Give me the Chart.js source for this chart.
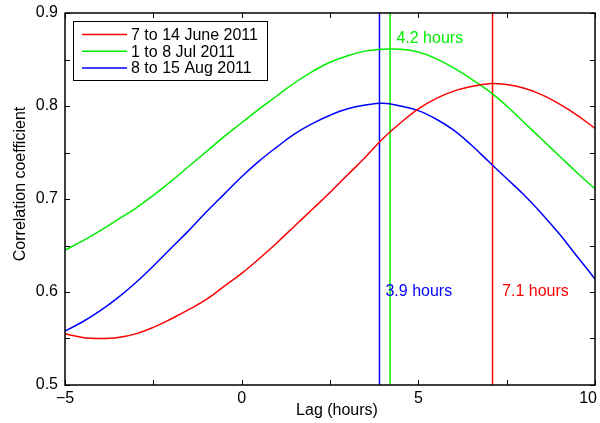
<!DOCTYPE html>
<html>
<head>
<meta charset="utf-8">
<script src="https://cdn.jsdelivr.net/npm/chart.js@4"></script>
<style>
  html, body { margin: 0; padding: 0; background: #fff; }
  #wrap { width: 600px; height: 423px; }
</style>
</head>
<body>
<div id="wrap"><canvas id="corrChart" width="600" height="423"></canvas></div>
<script>
// lag axis (hours)
const lags = [
  -5, -4.5, -4, -3.5, -3, -2.5, -2, -1.5, -1, -0.5,
  0, 0.5, 1, 1.5, 2, 2.5, 3, 3.5, 4, 4.5,
  5, 5.5, 6, 6.5, 7, 7.5, 8, 8.5, 9, 9.5, 10
];

// correlation per period
const june = [
  0.555, 0.551, 0.550, 0.551, 0.555, 0.562, 0.571, 0.581, 0.592, 0.606,
  0.620, 0.636, 0.653, 0.671, 0.689, 0.707, 0.726, 0.745, 0.765, 0.782,
  0.797, 0.808, 0.816, 0.821, 0.824, 0.823, 0.819, 0.812, 0.802, 0.790, 0.776
];
const july = [
  0.645, 0.655, 0.666, 0.678, 0.690, 0.704, 0.719, 0.735, 0.751, 0.767,
  0.782, 0.797, 0.811, 0.825, 0.837, 0.847, 0.854, 0.859, 0.861, 0.861,
  0.858, 0.851, 0.841, 0.829, 0.816, 0.800, 0.782, 0.764, 0.746, 0.728, 0.711
];
const august = [
  0.558, 0.568, 0.580, 0.594, 0.610, 0.628, 0.647, 0.666, 0.686, 0.705,
  0.724, 0.741, 0.756, 0.770, 0.781, 0.790, 0.797, 0.801, 0.803, 0.800,
  0.795, 0.786, 0.774, 0.758, 0.740, 0.722, 0.704, 0.684, 0.662, 0.638, 0.614
];

const seriesLabels = ["7 to 14 June 2011", "1 to 8 Jul 2011", "8 to 15 Aug 2011"];
const seriesColors = ["#ff0000", "#00ee00", "#0000ff"];
const peakLags = [7.1, 4.2, 3.9];
const peakTexts = ["7.1 hours", "4.2 hours", "3.9 hours"];
const xTitle = "Lag (hours)";
const yTitle = "Correlation coefficient";

const FONT = "'Liberation Sans', Arial, Helvetica, sans-serif";

function toPoints(ys) {
  return ys.map((y, i) => ({ x: lags[i], y: y }));
}

const curveSets = [june, july, august].map((ys, i) => ({
  label: seriesLabels[i],
  data: toPoints(ys),
  borderColor: seriesColors[i],
  backgroundColor: "transparent",
  borderWidth: 1.5,
  pointRadius: 0,
  tension: 0.4
}));

const peakSets = peakLags.map((p, i) => ({
  label: "peak" + i,
  data: [{ x: p, y: 0.5 }, { x: p, y: 0.9 }],
  borderColor: seriesColors[i],
  borderWidth: 1.5,
  pointRadius: 0
}));

// text positions for peak labels (lag, corr)
const peakTextPos = [[7.37, 0.600], [4.38, 0.872], [4.07, 0.600]];

function xLabel(v) {
  return Math.round(v * 10) % 50 === 0 ? String(v).replace("-", "\u2212") : "";
}

const boxPlugin = {
  id: "boxPlugin",
  afterDraw(chart) {
    const c = chart.ctx;
    const a = chart.chartArea;
    const xs = chart.scales.x;
    const ys = chart.scales.y;

    c.save();
    c.strokeStyle = "#000";
    c.lineWidth = 1.5;
    c.strokeRect(a.left, a.top, a.right - a.left, a.bottom - a.top);

    // inward ticks
    c.lineWidth = 1;
    c.beginPath();
    xs.ticks.forEach(t => {
      const px = Math.round(xs.getPixelForValue(t.value)) + 0.5;
      c.moveTo(px, a.bottom); c.lineTo(px, a.bottom - 5);
      c.moveTo(px, a.top); c.lineTo(px, a.top + 5);
    });
    ys.ticks.forEach(t => {
      const py = Math.round(ys.getPixelForValue(t.value)) + 0.5;
      c.moveTo(a.left, py); c.lineTo(a.left + 5, py);
      c.moveTo(a.right, py); c.lineTo(a.right - 5, py);
    });
    c.stroke();

    // x tick labels, kept inside the canvas
    c.font = "16px " + FONT;
    c.fillStyle = "#000";
    c.textBaseline = "middle";
    c.textAlign = "center";
    xs.ticks.forEach(t => {
      const s = xLabel(t.value);
      if (!s) return;
      const w = c.measureText(s).width;
      let px = xs.getPixelForValue(t.value);
      if (px + w / 2 > 597) px = 597 - w / 2;
      c.fillText(s, px, a.bottom + 14);
    });

    // axis titles
    c.fillText(xTitle, 337, 411);
    c.save();
    c.translate(21, 184);
    c.rotate(-Math.PI / 2);
    c.fillText(yTitle, 0, 0);
    c.restore();

    // peak labels
    c.textAlign = "left";
    peakTextPos.forEach((p, i) => {
      c.fillStyle = seriesColors[i];
      c.fillText(peakTexts[i], xs.getPixelForValue(p[0]), ys.getPixelForValue(p[1]));
    });

    // legend
    const lx = a.left + 8, ly = a.top + 8, lw = 194, lh = 59;
    c.fillStyle = "#fff";
    c.fillRect(lx, ly, lw, lh);
    c.strokeStyle = "#000";
    c.lineWidth = 1;
    c.strokeRect(lx + 0.5, ly + 0.5, lw, lh);
    seriesLabels.forEach((lab, i) => {
      const ry = ly + 13.5 + i * 16.7;
      c.strokeStyle = seriesColors[i];
      c.lineWidth = 1.5;
      c.beginPath();
      c.moveTo(lx + 9, ry);
      c.lineTo(lx + 54, ry);
      c.stroke();
      c.fillStyle = "#000";
      c.fillText(lab, lx + 58, ry + 1);
    });
    c.restore();
  }
};

new Chart(document.getElementById("corrChart"), {
  type: "line",
  data: { datasets: curveSets.concat(peakSets) },
  options: {
    responsive: false,
    animation: false,
    devicePixelRatio: 1,
    layout: { padding: { top: 13, right: 5, left: 0, bottom: 0 } },
    plugins: {
      legend: { display: false },
      tooltip: { enabled: false }
    },
    scales: {
      x: {
        type: "linear",
        min: -5,
        max: 10,
        grid: { display: false, drawTicks: false },
        border: { display: false },
        afterFit: s => { s.height = 38; s.paddingLeft = 0; s.paddingRight = 0; },
        ticks: {
          stepSize: 2.5,
          autoSkip: false,
          maxRotation: 0,
          callback: () => ""
        }
      },
      y: {
        min: 0.5,
        max: 0.9,
        grid: { display: false, drawTicks: false },
        border: { display: false },
        afterFit: s => { s.width = 65; s.paddingTop = 0; s.paddingBottom = 0; },
        ticks: {
          stepSize: 0.05,
          padding: 7,
          color: "#000",
          font: { family: FONT, size: 16 },
          autoSkip: false,
          callback: v => (Math.round(v * 100) % 10 === 0 ? v.toFixed(1) : "")
        }
      }
    }
  },
  plugins: [boxPlugin]
});
</script>
</body>
</html>
